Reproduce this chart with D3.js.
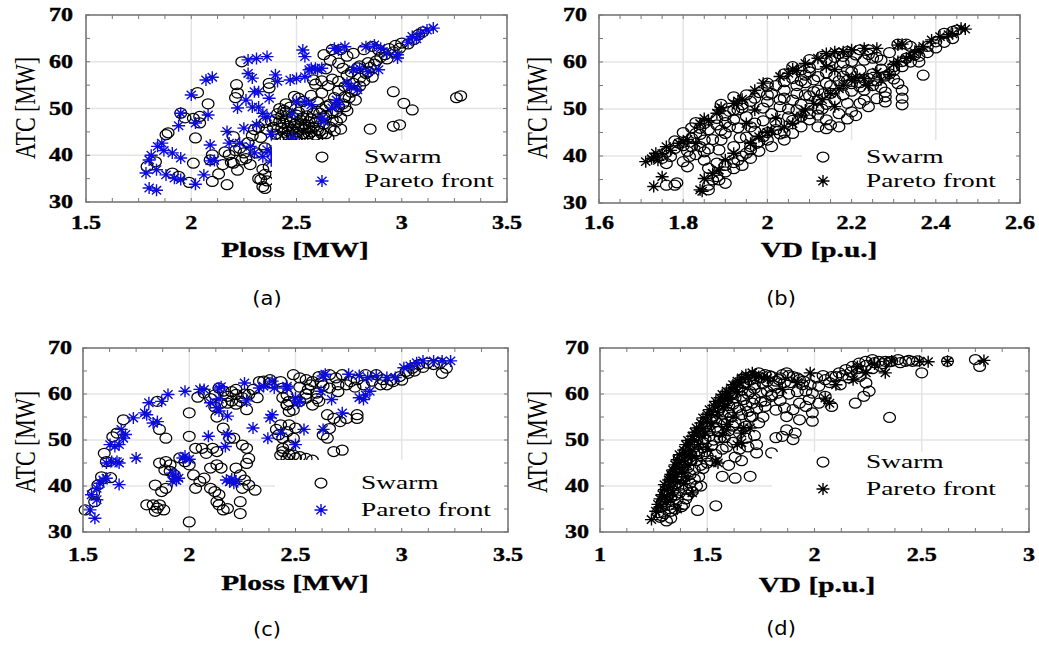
<!DOCTYPE html>
<html>
<head>
<meta charset="utf-8">
<script src="https://cdn.jsdelivr.net/npm/d3@7"></script>
<style>
  body { margin: 0; background: #fff; }
</style>
</head>
<body>
<div id="chart"></div>
<script>
// values: [x, ATC]
var swarmA = [[1.79,37.6],[1.83,38.6],[1.88,44.4],[1.89,44.8],[1.91,36.2],[1.94,35.5],[1.95,49.0],[1.97,48.0],[2.01,47.9],[2.01,38.3],[2.02,43.7],[1.99,34.2],[2.03,53.4],[2.04,46.9],[2.04,48.3],[2.08,51.0],[2.09,39.0],[2.10,40.1],[2.10,34.4],[2.13,36.0],[2.17,33.7],[2.15,38.0],[2.16,40.7],[2.18,40.1],[2.19,38.5],[2.20,38.3],[2.20,44.0],[2.21,52.3],[2.22,53.3],[2.215,55.1],[2.24,60.0],[2.23,41.5],[2.24,39.0],[2.26,39.3],[2.27,42.7],[2.29,44.2],[2.30,45.5],[2.31,40.5],[2.32,35.0],[2.33,34.8],[2.34,33.3],[2.35,32.9],[2.35,35.9],[2.36,34.5],[2.37,55.4],[2.37,54.4],[2.33,43.8],[2.35,41.6],[2.38,47.3],[2.37,37.5],[2.34,37.0],
  [2.41,48.9],[2.42,47.2],[2.43,45.8],[2.44,44.9],[2.44,49.6],[2.45,47.8],[2.46,46.2],[2.46,44.3],[2.47,50.3],[2.48,48.2],[2.48,45.5],[2.49,43.9],[2.49,52.6],[2.50,47.0],[2.50,45.0],[2.51,49.2],[2.52,46.3],[2.52,44.1],[2.53,51.5],[2.53,48.0],[2.54,45.6],[2.55,43.8],[2.55,50.0],[2.56,47.2],[2.57,45.0],[2.57,52.8],[2.58,49.0],[2.58,46.0],[2.59,44.3],[2.60,51.4],[2.60,47.8],[2.61,45.2],[2.62,49.9],[2.62,53.3],[2.63,46.7],[2.64,44.6],[2.64,48.5],[2.65,43.7],[2.66,50.9],[2.67,47.5],[2.68,52.3],[2.69,49.3],[2.70,53.8],[2.71,45.6],[2.72,51.0],[2.51,52.2],[2.45,51.0],[2.59,55.2],[2.58,56.1],[2.62,55.9],[2.65,54.9],[2.67,56.3],[2.70,55.8],[2.73,54.7],[2.74,57.1],[2.77,55.4],
  [2.39,46.0],[2.40,44.5],[2.41,43.5],[2.42,50.0],[2.43,48.5],[2.44,46.8],[2.45,43.6],[2.46,45.2],[2.47,47.0],[2.48,44.3],[2.49,46.6],[2.50,43.6],[2.50,48.6],[2.51,45.8],[2.52,47.5],[2.53,44.6],[2.54,46.6],[2.55,48.4],[2.56,44.6],[2.56,46.0],[2.57,47.8],[2.58,43.7],[2.59,47.0],[2.60,45.4],[2.61,49.0],[2.62,44.6],[2.63,48.2],[2.64,50.5],[2.66,46.0],[2.67,49.0],[2.68,45.2],[2.69,47.2],[2.70,50.4],[2.71,48.0],[2.73,52.5],[2.74,49.5],[2.76,53.5],[2.78,51.8],[2.80,56.5],[2.83,57.5],[2.85,58.8],[2.87,59.5],[2.90,61.0],[2.94,62.8],[2.97,63.5],[3.00,64.0],[2.45,49.3],[2.40,47.6],[2.43,44.0],[2.36,45.5],[2.35,47.0],[2.32,46.0],[2.21,41.0],[2.25,40.5],[2.28,38.0],[2.22,36.8],
  [2.63,61.5],[2.67,62.6],[2.71,62.6],[2.74,61.2],[2.77,61.8],[2.82,62.6],[2.86,63.3],[2.89,62.5],[2.92,61.5],[2.96,62.1],[2.99,62.9],[3.03,63.8],[3.06,64.8],[3.08,65.8],[3.10,66.4],[2.80,59.1],[2.84,59.8],[2.88,60.2],[2.93,60.6],[2.84,57.9],[2.79,58.7],[2.76,57.8],[2.86,56.7],[2.82,55.9],[2.70,59.7],[2.64,58.5],[2.66,60.3],[2.72,58.6],[2.78,53.9],[2.75,52.3],[2.80,54.8],[2.73,50.4],
  [2.85,45.6],[2.96,46.2],[2.99,46.5],[2.96,53.6],[3.01,51.1],[3.05,49.7],[3.26,52.3],[3.28,52.7]];
var paretoA = [[1.785,36.2],[1.80,33.0],[1.835,32.5],[1.80,39.0],[1.81,40.0],[1.84,41.9],[1.86,42.6],[1.87,41.0],[1.835,36.9],[1.88,35.8],[1.92,35.1],[1.95,34.8],[2.02,33.8],[2.06,35.8],[1.91,40.5],[1.95,39.4],[1.94,46.3],[1.95,49.0],[2.02,46.9],[2.08,48.6],[2.00,52.9],[2.07,56.1],[2.10,56.7],[2.09,42.2],[2.09,38.8],[2.11,38.9],[2.17,45.1],[2.18,42.6],[2.23,42.6],[2.25,45.8],[2.27,60.4],[2.31,60.7],[2.36,61.1],[2.27,57.5],[2.29,56.5],[2.30,53.6],[2.32,53.6],[2.26,51.8],[2.22,50.1],[2.29,50.3],[2.32,50.3],[2.37,52.2],[2.34,49.0],[2.36,48.3],[2.40,57.2],[2.28,41.9],[2.30,40.5],[2.34,39.7],[2.36,41.2],[2.38,40.5],[2.38,38.8],
  [2.53,62.5],[2.54,61.1],[2.57,58.6],[2.60,58.3],[2.62,58.6],[2.47,56.1],[2.50,56.4],[2.54,56.8],[2.48,48.9],[2.50,51.5],[2.54,51.5],[2.57,50.8],[2.63,47.2],[2.48,43.7],[2.38,44.5],[2.31,46.5],[2.68,62.9],[2.70,62.5],[2.73,63.2],[2.83,63.2],[2.87,63.6],[2.90,62.9],[2.93,61.8],[2.98,61.5],[2.98,60.8],[2.56,58.3],[2.59,58.6],[2.77,58.3],[2.80,58.6],[2.84,57.9],[2.89,58.3],[2.74,55.4],[2.76,54.7],[2.79,54.0],[2.69,51.8],[2.70,50.8],[2.67,50.1],[2.62,47.9],[2.41,55.8],[3.05,65.4],[3.09,66.1],[3.12,66.8],[3.15,67.2],[3.07,64.9],[3.03,64.2]];

var swarmB = [[1.76,33.8],[1.78,33.8],[1.785,34.3],[1.75,39.5],[1.77,39.9],[1.76,38.4],[1.80,38.8],[1.81,37.7],[1.815,39.9],[1.82,42.0],[1.79,42.7],[1.83,44.8],[1.84,45.9],[1.85,46.9],[1.83,47.1],[1.85,43.4],[1.85,40.9],[1.85,39.1],[1.86,37.4],[1.87,34.9],[1.86,32.8],[1.885,34.9],[1.90,34.2],[1.885,41.3],[1.89,43.4],[1.90,44.8],[1.91,46.2],[1.92,47.7],[1.92,42.0],[1.935,43.9],[1.96,46.2],[1.95,48.4],[1.93,49.8],[1.90,47.1],[1.93,39.1],[1.95,40.6],[1.96,41.3],[1.975,42.7],[1.99,44.1],[2.0,55.5],[2.0,54.8],[2.01,53.3],[2.04,54.0],[2.04,52.3],[2.06,51.9],[2.07,49.8],[2.08,58.3],[2.10,57.9],[2.11,56.2],[2.11,53.7],[2.12,54.0],[2.12,51.9],[2.14,55.5],[2.15,53.3],[2.12,48.7],[2.14,47.7],[2.15,46.6],[2.17,46.2],[2.08,46.2],[2.06,44.8],[2.04,43.4],[2.01,42.0],[2.17,61.8],[2.19,62.2],[2.22,62.6],[2.24,62.6],[2.20,60.1],[2.23,60.4],[2.25,60.8],[2.27,60.4],[2.19,58.3],[2.20,57.9],[2.22,58.3],[2.19,56.1],[2.20,55.4],[2.22,54.7],[2.23,54.0],[2.25,55.0],[2.19,51.2],[2.20,49.4],[2.22,51.2],[2.23,51.9],[2.27,58.5],[2.29,57.5],[2.30,56.4],[2.31,55.4],[2.32,54.0],[2.32,52.3],[2.32,50.9],[2.28,53.6],[2.28,51.5],[2.28,52.6],[2.37,57.2],[2.31,63.8],[2.33,63.8],[2.34,63.3],[2.32,60.1],[2.33,60.8],[2.38,63.3],[2.40,64.3],[2.42,66.1],[2.44,66.5],[2.45,66.8],
  [1.88,48.0],[1.91,49.5],[1.94,50.9],[1.97,52.3],[1.99,50.2],[2.01,49.0],[2.03,50.5],[2.05,48.3],[2.07,53.3],[2.09,55.6],[2.02,47.3],[1.99,47.5],[1.97,45.3],[2.08,51.0],[2.10,52.8],[2.13,50.0],[2.16,57.0],[2.18,59.8],[2.14,57.7],[2.12,56.9],[2.09,57.2],[2.25,57.5],[2.23,56.2],[2.27,54.6],[2.26,52.2],[2.24,50.5],[2.21,48.6],[2.19,47.9],[2.17,49.0],[2.14,45.8],[2.12,46.2],[2.10,47.7],[2.03,44.7],[2.00,43.4],[1.98,41.0],[1.96,39.5],[1.94,38.0],[1.92,37.3],[1.90,36.6],[1.88,38.5],[1.86,41.5],[1.83,40.3],[1.81,41.0],[1.78,43.2],[1.80,45.0],[1.82,46.0],[2.10,60.5],[2.13,61.2],[2.15,60.3],[2.06,59.0],[2.04,57.5],[1.95,53.0],[1.92,52.6],[1.89,51.0],[2.29,62.0],[2.35,61.5],[2.36,60.0],[2.30,59.0],
  [1.76,40.8],[1.78,41.6],[1.80,42.2],[1.82,43.8],[1.84,44.6],[1.86,45.6],[1.88,46.6],[1.90,48.6],[1.92,49.8],[1.94,50.2],[1.96,51.6],[1.98,53.5],[2.00,53.0],[2.02,55.0],[2.04,55.8],[2.06,56.5],[2.08,56.0],[2.10,58.8],[2.12,59.5],[2.14,60.4],[2.16,61.0],[2.18,61.2],[2.21,61.5],[2.24,61.6],[2.26,61.0],
  [1.86,33.8],[1.88,35.6],[1.90,38.0],[1.92,38.6],[1.94,40.0],[1.96,42.0],[1.98,43.0],[2.00,45.0],[2.02,45.6],[2.04,45.0],[2.06,47.6],[2.08,48.4],[2.10,49.0],[2.12,50.0],[2.14,51.0],[2.16,52.0],[2.18,53.0],[2.20,53.8],[2.22,55.6],[2.24,56.5],[2.26,56.0],[2.28,57.0],[2.30,58.2],[2.32,59.0],[2.34,60.0],[2.36,61.2],[2.38,62.0],[2.40,63.0],[2.42,64.2],[2.44,65.0],
  [1.84,42.0],[1.87,43.5],[1.89,45.5],[1.93,46.0],[1.95,44.0],[1.97,47.0],[2.00,51.5],[2.03,52.0],[2.05,50.0],[2.07,55.0],[2.09,53.0],[2.13,53.2],[2.15,55.0],[2.17,56.0],[2.18,57.0]];
var paretoB = [[1.711,38.8],[1.73,39.8],[1.74,39.1],[1.75,40.5],[1.76,42.0],[1.725,39.4],[1.735,40.6],[1.73,33.5],[1.75,35.6],[1.79,42.7],[1.80,43.0],[1.83,42.7],[1.84,46.9],[1.85,48.0],[1.86,47.5],[1.88,49.1],[1.885,49.8],[1.89,50.3],[1.92,51.2],[1.93,51.7],[1.94,52.1],[1.97,54.0],[1.99,55.5],[2.03,56.9],[2.05,57.6],[2.07,58.2],[2.09,59.7],[2.12,60.8],[2.14,61.8],[2.16,62.2],[2.18,62.2],[2.20,62.6],[2.23,62.9],[2.26,62.9],[2.26,57.8],[2.27,56.2],[2.29,57.3],[2.31,63.6],[2.31,60.1],[2.33,60.8],[2.34,61.2],[2.36,62.6],[2.37,63.3],[2.39,64.7],[2.41,65.4],[2.46,67.2],[2.47,67.0],[2.14,59.0],[2.16,58.4],[2.15,53.3],[2.17,54.3],[2.16,50.5],[2.20,56.1],[2.21,56.8],[1.97,49.8],[1.95,46.9],[2.01,45.5],[2.04,46.2],[2.06,46.9],[2.09,49.8],[2.11,51.2],[1.96,42.7],[1.98,44.1],[1.92,40.6],[1.90,39.2],[1.885,37.0],[1.87,36.3],[1.85,35.2],[1.84,32.8],[1.845,32.5],[2.24,55.0],[2.02,48.0],[2.06,58.5],[2.32,63.8],[2.43,65.8],
  [1.77,41.2],[1.81,43.5],[2.00,45.0],[2.08,48.5],[2.13,52.0],[2.18,55.0],[2.23,56.5],[2.30,59.5],[2.35,62.0],[2.44,66.0]];

var swarmC = [[1.51,34.8],[1.55,38.4],[1.57,40.2],[1.555,36.6],[1.587,42.0],[1.63,41.8],[1.61,45.3],[1.60,47.1],[1.64,50.7],[1.66,51.5],[1.69,54.4],[1.86,52.3],[1.89,50.4],[1.85,58.4],[2.0,55.9],[2.0,50.8],[2.0,32.2],[1.80,35.9],[1.83,35.9],[1.85,35.2],[1.86,35.9],[1.88,34.8],[1.84,34.5],[1.84,40.2],[1.87,38.8],[1.89,39.5],[1.86,45.0],[1.89,45.3],[1.91,44.6],[1.885,43.5],[1.91,43.2],[1.93,42.4],[1.955,46.1],[1.98,45.3],[2.0,44.6],[2.03,48.2],[2.06,48.2],[2.08,47.1],[2.11,48.2],[2.13,47.5],[2.02,42.4],[2.05,41.0],[2.03,39.5],[2.07,41.7],[2.10,39.5],[2.12,38.8],[2.14,38.1],[2.13,36.6],[2.14,35.9],[2.16,34.8],[2.18,35.1],[2.24,34.0],[2.10,43.9],[2.13,44.6],[2.15,43.9],[2.22,43.9],[2.24,42.4],[2.26,41.3],[2.28,40.2],[2.31,39.1],[2.25,39.5],[2.24,36.6],[2.21,50.4],[2.25,48.9],[2.27,48.2],[2.28,46.0],[2.27,44.9],[2.16,52.6],[2.19,50.4],[2.14,61.3],[2.16,60.6],[2.22,59.9],[2.25,59.2],[2.28,59.9],[2.32,59.2],[2.35,62.8],[2.38,62.4],[2.44,59.2],[2.46,57.7],[2.47,56.2],[2.41,52.3],[2.42,51.1],[2.44,50.4],[2.47,53.3],[2.50,52.6],[2.44,47.5],[2.47,46.8],[2.50,46.1],[2.18,59.5],[2.20,58.5],[2.22,57.8],[2.24,58.4],[2.26,60.0],[2.27,56.6],[2.20,60.5],[2.15,58.0],[2.12,57.2],[2.13,55.0],[2.33,62.7],[2.38,63.1],[2.04,59.3],[2.07,60.2],[2.10,59.0],
  [2.43,62.7],[2.44,61.3],[2.46,59.8],[2.47,58.4],[2.49,64.2],[2.52,63.5],[2.55,63.1],[2.58,62.7],[2.61,63.8],[2.66,64.2],[2.69,63.5],[2.72,64.2],[2.76,62.7],[2.79,63.1],[2.83,64.2],[2.88,64.2],[2.91,63.1],[2.96,62.7],[2.99,63.8],[3.02,64.9],[3.05,65.6],[3.08,66.4],[3.12,66.7],[3.15,66.4],[3.18,66.7],[3.19,64.5],[3.21,65.6],[2.46,57.6],[2.49,56.5],[2.52,58.4],[2.55,59.1],[2.58,57.6],[2.61,58.4],[2.65,55.5],[2.68,54.7],[2.71,54.0],[2.74,54.7],[2.79,54.7],[2.79,55.5],[2.66,52.5],[2.63,51.1],[2.65,50.4],[2.43,53.3],[2.46,51.8],[2.49,50.4],[2.43,46.7],[2.46,46.0],[2.49,46.7],[2.52,46.4],[2.55,46.0],[2.58,45.6],[2.68,47.5],[2.72,47.8],[2.44,48.2],[2.47,48.9],[2.56,61.0],[2.60,60.2],[2.63,61.8],[2.70,62.0],[2.93,62.0],
  [2.52,61.5],[2.57,62.0],[2.62,62.5],[2.66,61.3],[2.70,60.5],[2.74,62.0],[2.78,61.5],[2.82,62.0],[2.86,62.8],[2.90,62.0],[2.95,63.0],[3.00,63.0],[3.03,64.5],[3.06,65.0],[3.10,65.8],[2.55,60.0],[2.60,59.0],[2.18,58.0],[2.22,61.0],[2.30,61.0],[2.12,59.8]];
var paretoC = [[1.533,34.8],[1.556,33.0],[1.54,38.1],[1.565,39.5],[1.58,40.6],[1.595,41.3],[1.61,41.7],[1.565,37.0],[1.67,40.3],[1.61,45.0],[1.635,45.3],[1.66,45.3],[1.67,45.0],[1.627,49.0],[1.65,48.6],[1.67,49.0],[1.69,50.4],[1.70,51.2],[1.68,52.3],[1.75,46.1],[1.737,54.8],[1.79,55.9],[1.80,55.5],[1.81,58.1],[1.83,53.7],[1.85,54.0],[1.87,58.4],[1.90,59.9],[1.98,60.6],[2.05,61.0],[2.07,61.0],[2.14,61.3],[2.15,61.6],[2.10,58.1],[2.13,57.0],[2.14,56.3],[2.18,55.2],[2.09,50.8],[2.18,51.2],[2.17,48.6],[1.97,46.1],[1.98,46.5],[2.0,45.8],[1.92,42.8],[1.935,42.1],[1.95,41.7],[1.92,41.0],[1.94,41.2],[2.175,41.3],[2.19,40.9],[2.20,41.5],[2.21,40.6],[2.22,41.0],[2.26,62.4],[2.30,52.6],[2.38,54.8],[2.39,55.5],[2.37,50.4],[2.40,61.3],[2.39,62.8],[2.33,61.3],[2.35,61.7],[2.46,61.7],[2.43,51.5],[2.50,49.0],[2.50,59.2],[2.52,58.4],[2.46,61.3],[2.51,58.1],[2.54,52.3],[2.63,63.9],[2.62,60.6],[2.67,58.8],[2.72,55.9],[2.63,52.3],[2.75,64.3],[2.80,64.0],[2.84,63.6],[2.88,64.0],[2.93,63.6],[2.97,63.6],[2.80,59.2],[2.82,58.8],[2.83,59.8],[2.85,60.6],[3.01,65.7],[3.04,66.1],[3.07,66.8],[3.10,67.2],[3.15,67.2],[3.19,67.2],[3.23,67.2],[2.64,64.3],[2.27,58.5],[2.14,58.9]];

var swarmD = [[1.28,33.2],[1.31,32.4],[1.30,34.0],[1.33,34.5],[1.35,35.0],[1.29,35.5],[1.32,35.8],[1.38,35.5],[1.455,34.7],[1.54,35.7],[1.30,37.0],[1.33,37.5],[1.36,37.0],[1.40,37.2],[1.31,38.5],[1.34,39.0],[1.37,38.5],[1.40,39.3],[1.43,38.8],[1.32,40.0],[1.35,40.5],[1.38,40.2],[1.42,40.6],[1.45,40.0],[1.33,41.5],[1.36,42.0],[1.39,41.8],[1.42,42.5],[1.46,42.0],[1.35,43.2],[1.38,43.6],[1.41,44.0],[1.44,43.5],[1.48,43.8],[1.37,44.8],[1.40,45.2],[1.45,45.5],[1.50,45.0],[1.39,46.3],[1.42,46.8],[1.46,47.0],[1.50,46.5],[1.54,46.8],[1.41,48.0],[1.44,48.5],[1.48,48.3],[1.52,48.8],[1.57,48.0],[1.45,50.0],[1.49,50.3],[1.53,50.0],[1.58,50.5],[1.62,49.5],[1.47,51.5],[1.51,52.0],[1.55,51.8],[1.60,52.0],[1.65,51.5],[1.50,53.5],[1.54,54.0],[1.58,53.5],[1.63,53.8],[1.68,53.0],[1.53,55.2],[1.57,55.6],[1.61,55.0],[1.66,55.5],[1.70,55.0],[1.56,57.0],[1.60,57.5],[1.64,57.0],[1.68,57.5],[1.73,56.8],[1.59,58.8],[1.63,59.2],[1.67,58.8],[1.72,59.0],[1.77,58.5],[1.62,60.3],[1.66,60.8],[1.70,60.5],[1.75,60.2],[1.80,59.8],[1.64,62.0],[1.68,62.5],[1.72,62.0],[1.76,62.3],[1.81,61.8],[1.86,62.5],[1.67,63.5],[1.71,64.0],[1.75,63.5],[1.79,64.0],[1.84,63.5],[1.88,64.0],[1.92,63.5],
  [1.74,64.6],[1.77,64.2],[1.80,63.8],[1.835,63.1],[1.87,64.6],[1.90,63.8],[1.93,63.1],[1.944,62.0],[1.96,60.6],[1.975,58.8],[1.96,57.3],[1.99,55.9],[2.02,61.7],[2.05,63.1],[2.08,63.8],[2.115,64.6],[2.146,65.3],[2.177,66.0],[2.208,66.7],[2.239,67.1],[2.27,67.5],[2.30,67.1],[2.33,67.1],[2.36,67.1],[2.39,67.5],[2.425,67.1],[2.457,67.1],[2.21,63.8],[2.24,62.4],[2.255,60.6],[2.23,59.5],[2.05,59.5],[2.08,57.3],[2.02,58.0],[1.99,60.2],[1.93,58.0],[1.90,56.6],[1.87,55.1],[1.93,54.4],[1.80,59.5],[1.77,57.3],[1.83,60.2],[1.71,58.0],[1.71,55.1],[1.74,53.7],[2.12,62.0],[2.16,63.5],[2.27,65.5],[2.31,66.0],[2.20,64.5],
  [1.27,34.2],[1.29,36.5],[1.31,39.2],[1.33,40.8],[1.34,42.5],[1.36,43.8],[1.37,46.0],[1.39,44.5],[1.40,47.5],[1.42,45.6],[1.43,49.0],[1.45,47.6],[1.46,51.0],[1.48,49.5],[1.49,52.8],[1.51,50.8],[1.52,54.5],[1.54,52.8],[1.55,56.3],[1.57,54.0],[1.58,58.2],[1.60,56.0],[1.61,59.8],[1.62,57.8],[1.64,61.3],[1.66,59.5],[1.67,62.3],[1.69,60.0],[1.70,63.0],[1.72,61.2],[1.73,63.4],[1.78,62.8],[1.82,62.8],[1.85,64.2],[1.89,62.5],[1.95,62.8],[1.98,62.0],[2.01,63.5],[2.04,64.0],[2.07,62.5],[2.10,63.8],[2.13,64.0],[2.17,64.8],[2.20,65.5],[2.24,66.2],[2.28,66.8],[2.32,66.6],[2.35,67.0],[2.40,66.8],[2.44,67.3],[2.48,67.2],[1.44,41.5],[1.47,44.5],[1.49,47.5],[1.52,45.5],[1.56,50.5],[1.59,48.5],[1.62,53.0],[1.65,56.5],[1.69,56.2],[1.75,58.3],[1.78,60.6],[1.84,58.6],[1.88,60.0],[1.92,60.5],[1.86,57.0],[1.82,56.5],[1.76,55.0],[1.39,36.0],[1.35,38.0],[1.41,38.0],[1.47,40.0],[1.29,33.5],[1.33,33.0],
  [1.57,42.1],[1.63,41.7],[1.70,42.1],[1.73,49.0],[1.73,47.2],[1.80,47.2],[1.85,50.8],[1.87,52.2],[1.90,50.1],[1.91,51.5],[1.99,54.1],[2.19,58.0],[2.35,54.9],[2.50,64.6],[2.77,66.0],[2.75,67.5],[2.62,67.1],[1.63,46.3],[1.66,45.5],[1.60,44.5],[1.65,48.0],[1.69,48.5],[1.72,51.0],[1.68,50.4],[1.82,50.5]];
var paretoD = [[1.24,32.7],[1.26,34.5],[1.27,36.0],[1.28,37.2],[1.29,38.1],[1.30,39.2],[1.30,40.3],[1.32,41.3],[1.33,42.5],[1.34,43.5],[1.35,44.6],[1.36,45.7],[1.37,46.8],[1.39,47.8],[1.40,49.0],[1.41,49.9],[1.43,50.8],[1.44,51.7],[1.45,52.6],[1.47,53.7],[1.48,54.8],[1.50,55.6],[1.51,56.6],[1.53,57.5],[1.54,58.4],[1.56,59.2],[1.57,59.9],[1.59,60.6],[1.61,61.3],[1.62,62.0],[1.64,62.8],[1.66,63.5],[1.68,64.2],[1.71,64.6],[1.74,63.8],
  [1.31,36.5],[1.34,38.5],[1.36,40.8],[1.38,43.0],[1.41,44.5],[1.43,46.5],[1.46,49.0],[1.49,51.5],[1.52,53.5],[1.55,56.0],[1.58,57.5],[1.60,59.0],[1.64,60.5],[1.42,49.0],[1.54,45.4],[1.55,45.0],[1.59,53.4],[1.67,52.7],[1.64,49.0],[1.66,49.4],[1.595,58.8],[1.59,52.2],[1.66,51.5],[1.70,52.6],[1.43,38.5],[1.36,35.0],[1.40,42.0],
  [1.28,35.5],[1.30,37.8],[1.32,39.8],[1.33,41.0],[1.35,42.0],[1.37,44.0],[1.38,45.5],[1.40,46.5],[1.42,47.5],[1.44,50.0],[1.46,51.5],[1.48,52.5],[1.50,54.0],[1.52,55.5],[1.55,57.3],[1.57,58.5],[1.60,60.2],[1.63,61.5],[1.65,62.5],[1.69,63.5],[1.72,64.0],[1.62,55.0],[1.57,51.0],[1.50,48.0],[1.45,46.0],[1.39,40.5],[1.33,37.0],
  [1.98,64.6],[2.05,59.1],[2.07,58.0],[2.18,63.1],[2.24,64.6],[2.33,64.6],[2.36,67.2],[2.49,67.1],[2.53,67.0],[2.62,67.1],[2.79,67.3],[1.78,63.5],[1.85,61.0],[1.92,62.5],[2.10,62.0],[2.20,66.0],[2.28,66.5]];

var ticksPloss = [1.5, 2, 2.5, 3, 3.5];
var ticksVD1 = [1.6, 1.8, 2, 2.2, 2.4, 2.6];
var ticksVD2 = [1, 1.5, 2, 2.5, 3];
var ticksATC = [30, 40, 50, 60, 70];
var xTitles = ["Ploss [MW]", "VD [p.u.]", "Ploss [MW]", "VD [p.u.]"];
var yTitle = "ATC [MW]";
var panelNames = ["(a)", "(b)", "(c)", "(d)"];
var legendNames = ["Swarm", "Pareto front"];

var width = 1039, height = 648;
var blue = "#0c0cdc";
var serif = "'Liberation Serif', 'Times New Roman', serif";

var svg = d3.select("#chart").append("svg")
  .attr("width", width)
  .attr("height", height)
  .style("background", "#fff");

// layout of the four panels, picked to sit where the figure has them
var panels = [
  { x0: 86, x1: 507, y0: 15, y1: 202, xt: ticksPloss, swarm: swarmA, pareto: paretoA, star: blue,
    yLabX: 73, xLabY: 223, xTitle: [295, 250], yTitle: [25, 108], name: [267, 298],
    legBox: [272, 140, 505, 200], leg: [322, 157, 181, 364] },
  { x0: 599, x1: 1020, y0: 15, y1: 203, xt: ticksVD1, swarm: swarmB, pareto: paretoB, star: "#000",
    yLabX: 587, xLabY: 223, xTitle: [819, 250], yTitle: [537, 108], name: [781, 298],
    legBox: [802, 140, 1018, 201], leg: [823, 157, 181, 866] },
  { x0: 83, x1: 508, y0: 348, y1: 532, xt: ticksPloss, swarm: swarmC, pareto: paretoC, star: blue,
    yLabX: 72, xLabY: 555, xTitle: [295, 583], yTitle: [25, 442], name: [267, 629],
    legBox: [275, 460, 506, 530], leg: [321, 483, 510, 361] },
  { x0: 600, x1: 1029, y0: 348, y1: 532, xt: ticksVD2, swarm: swarmD, pareto: paretoD, star: "#000",
    yLabX: 589, xLabY: 555, xTitle: [817, 585], yTitle: [537, 442], name: [781, 628],
    legBox: [772, 452, 1027, 530], leg: [823, 462, 489, 866] }
];

// the source image is stretched sideways, so text gets a horizontal scale
function addText(x, y, str, o) {
  var t = svg.append("text")
    .attr("transform", "translate(" + x + "," + y + ") scale(" + (o.sx || 1) + ",1)" + (o.rot ? " rotate(" + o.rot + ")" : ""))
    .attr("text-anchor", o.anchor || "middle")
    .attr("dominant-baseline", "central")
    .attr("font-family", o.family || serif)
    .attr("font-size", o.size)
    .attr("font-weight", o.weight || "normal")
    .attr("fill", "#000")
    .text(str);
  if (o.heavy) t.attr("stroke", "#000").attr("stroke-width", o.heavy);
  return t;
}

var starPath = "M-6.5,0H6.5M0,-6V6M-4.6,-4.2L4.6,4.2M-4.6,4.2L4.6,-4.2";

function drawCircle(g, cx, cy) {
  g.append("ellipse")
    .attr("cx", cx).attr("cy", cy)
    .attr("rx", 5.9).attr("ry", 5.0)
    .attr("fill", "none")
    .attr("stroke", "#000")
    .attr("stroke-width", 1.25);
}

function drawStar(g, cx, cy, color) {
  g.append("path")
    .attr("d", starPath)
    .attr("transform", "translate(" + cx + "," + cy + ")")
    .attr("fill", "none")
    .attr("stroke", color)
    .attr("stroke-width", 1.4);
}

panels.forEach(function(p, i) {
  var xt = p.xt;
  var x = d3.scaleLinear().domain([xt[0], xt[xt.length - 1]]).range([p.x0, p.x1]);
  var y = d3.scaleLinear().domain([30, 70]).range([p.y1, p.y0]);
  var g = svg.append("g");

  // grid
  xt.slice(1, -1).forEach(function(v) {
    g.append("line").attr("x1", x(v)).attr("x2", x(v)).attr("y1", p.y0).attr("y2", p.y1)
      .attr("stroke", "#e4e4e4").attr("stroke-width", 1.5);
  });
  ticksATC.slice(1, -1).forEach(function(v) {
    g.append("line").attr("x1", p.x0).attr("x2", p.x1).attr("y1", y(v)).attr("y2", y(v))
      .attr("stroke", "#e4e4e4").attr("stroke-width", 1.5);
  });

  // markers
  var pts = g.append("g");
  p.swarm.forEach(function(d) { drawCircle(pts, x(d[0]), y(d[1])); });
  p.pareto.forEach(function(d) { drawStar(pts, x(d[0]), y(d[1]), p.star); });

  // legend (white background, no frame)
  var lb = p.legBox;
  g.append("rect").attr("x", lb[0]).attr("y", lb[1]).attr("width", lb[2] - lb[0]).attr("height", lb[3] - lb[1])
    .attr("fill", "#fff");
  drawCircle(g, p.leg[0], p.leg[1]);
  drawStar(g, p.leg[0], p.leg[2], p.star);
  addText(p.leg[3], p.leg[1], legendNames[0], { size: 18.5, anchor: "start", sx: 1.48 });
  addText(p.leg[3], p.leg[2], legendNames[1], { size: 18.5, anchor: "start", sx: 1.48 });

  // box and inward ticks
  g.append("rect").attr("x", p.x0).attr("y", p.y0).attr("width", p.x1 - p.x0).attr("height", p.y1 - p.y0)
    .attr("fill", "none").attr("stroke", "#777").attr("stroke-width", 1.6);
  var xStep = (xt[1] - xt[0]) / 4;
  d3.range(xt[0], xt[xt.length - 1] + xStep / 2, xStep).forEach(function(v) {
    g.append("line").attr("x1", x(v)).attr("x2", x(v)).attr("y1", p.y1).attr("y2", p.y1 - 4).attr("stroke", "#777");
    g.append("line").attr("x1", x(v)).attr("x2", x(v)).attr("y1", p.y0).attr("y2", p.y0 + 4).attr("stroke", "#777");
  });
  d3.range(30, 71, 5).forEach(function(v) {
    g.append("line").attr("x1", p.x0).attr("x2", p.x0 + 4).attr("y1", y(v)).attr("y2", y(v)).attr("stroke", "#777");
    g.append("line").attr("x1", p.x1).attr("x2", p.x1 - 4).attr("y1", y(v)).attr("y2", y(v)).attr("stroke", "#777");
  });

  // tick labels
  xt.forEach(function(v) {
    addText(x(v), p.xLabY, String(v), { size: 18.5, weight: "bold", sx: 1.3, heavy: 0.4 });
  });
  ticksATC.forEach(function(v) {
    addText(p.yLabX, y(v), String(v), { size: 18.5, weight: "bold", sx: 1.3, anchor: "end", heavy: 0.4 });
  });

  // titles
  addText(p.xTitle[0], p.xTitle[1], xTitles[i], { size: 21, weight: "bold", sx: 1.4, heavy: 0.3 });
  addText(p.yTitle[0], p.yTitle[1], yTitle, { size: 22, sx: 1.3, rot: -90 });
  addText(p.name[0], p.name[1], panelNames[i], { size: 20, family: "'DejaVu Sans', sans-serif", sx: 1.05 });
});
</script>
</body>
</html>
